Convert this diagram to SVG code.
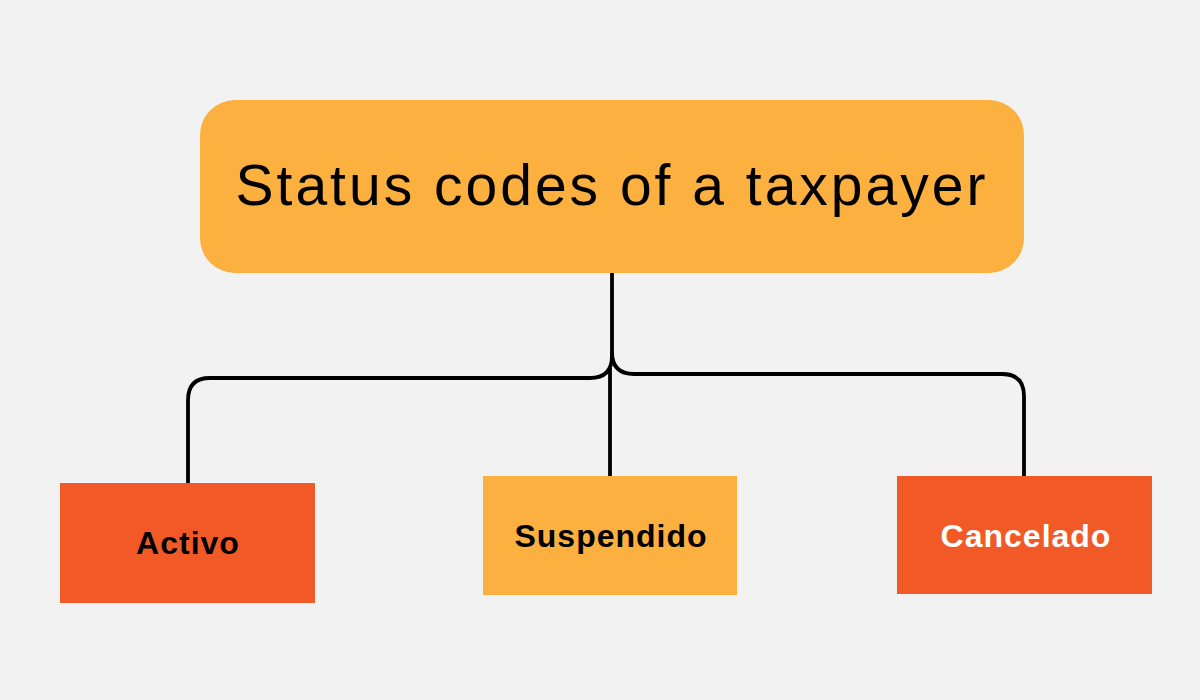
<svg xmlns="http://www.w3.org/2000/svg" width="1200" height="700" viewBox="0 0 1200 700">
<style>
.conn{fill:none;stroke:#000;stroke-width:3.8;stroke-linecap:butt;stroke-linejoin:round}
.yel{fill:#FBB03F}
.org{fill:#F15A27}
.lbl{font-family:"Liberation Sans",Arial,sans-serif;font-weight:bold;font-size:32px;letter-spacing:1px;text-anchor:middle}
.title{font-family:"Liberation Sans",Arial,sans-serif;font-size:57px;letter-spacing:3px;text-anchor:middle;fill:#000}
</style>
<rect width="1200" height="700" fill="#F2F2F2"/>
<g id="connectors">
<path class="conn" d="M612,272 V356 Q612,378 590,378 H210 Q188,378 188,400 V484"/>
<path class="conn" d="M612,352 Q612,374 634,374 H1002 Q1024,374 1024,396 V477"/>
<path class="conn" d="M610,368 V477"/>
</g>
<g id="title">
<rect class="yel" x="200" y="100" width="824" height="173" rx="35"/>
<text class="title" x="612" y="205">Status codes of a taxpayer</text>
</g>
<g id="activo">
<rect class="org" x="60" y="483" width="255" height="120"/>
<text class="lbl" x="188" y="554" fill="#000">Activo</text>
</g>
<g id="suspendido">
<rect class="yel" x="483" y="476" width="254" height="119"/>
<text class="lbl" x="611" y="547" fill="#000">Suspendido</text>
</g>
<g id="cancelado">
<rect class="org" x="897" y="476" width="255" height="118"/>
<text class="lbl" x="1026" y="547" fill="#fff">Cancelado</text>
</g>
</svg>
